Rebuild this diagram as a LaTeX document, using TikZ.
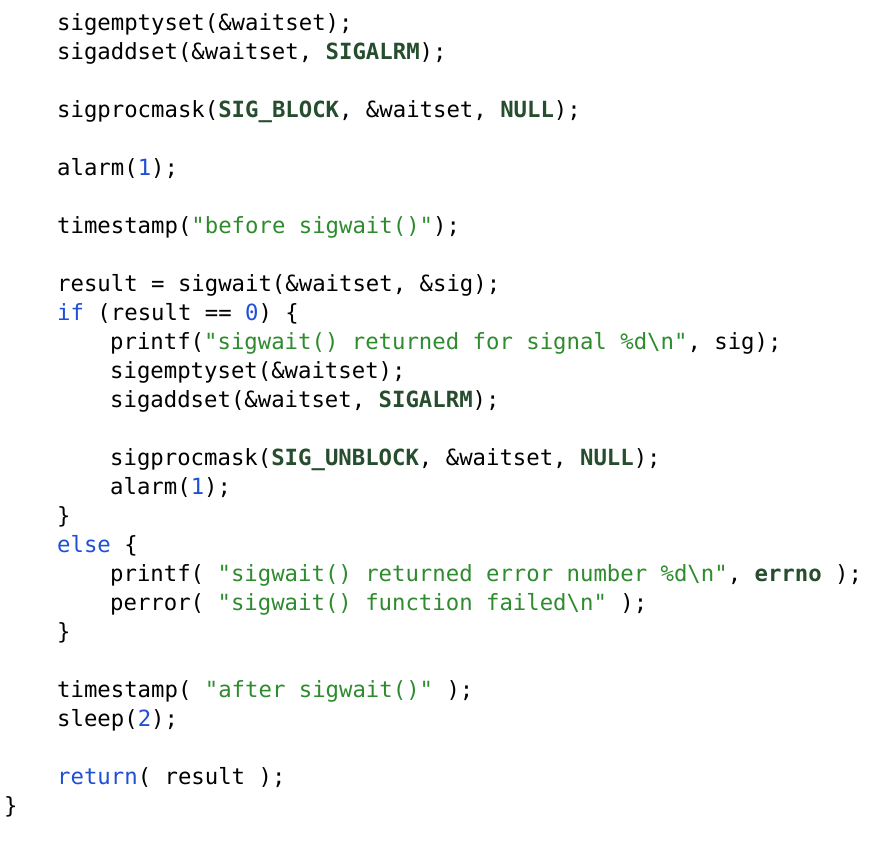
\documentclass[tikz,border=0pt]{standalone}
\usepackage{fontspec}
\setmonofont{DejaVu Sans Mono}
\definecolor{kwc}{HTML}{264D2E}
\definecolor{strc}{HTML}{2E8B2E}
\definecolor{numc}{HTML}{1F4FD6}
\newcommand\cK[1]{\textcolor{kwc}{\bfseries #1}}
\newcommand\cS[1]{\textcolor{strc}{#1}}
\newcommand\cN[1]{\textcolor{numc}{#1}}
\tikzset{ln/.style={anchor=base west,inner sep=0pt,font=\ttfamily\fontsize{22.3bp}{26bp}\selectfont,text=black}}
\begin{document}
\begin{tikzpicture}[x=1bp,y=-1bp]
\useasboundingbox[fill=white] (0,0) rectangle (869,843);
\node[ln] (l1) at (57,30) {sigemptyset(\&waitset);};
\node[ln] (l2) at (57,59) {sigaddset(\&waitset, \cK{SIGALRM});};
\node[ln] (l3) at (57,117) {sigprocmask(\cK{SIG\_BLOCK}, \&waitset, \cK{NULL});};
\node[ln] (l4) at (57,175) {alarm(\cN{1});};
\node[ln] (l5) at (57,233) {timestamp(\cS{"before sigwait()"});};
\node[ln] (l6) at (57,291) {result = sigwait(\&waitset, \&sig);};
\node[ln] (l7) at (57,320) {\cN{if} (result == \cN{0}) \{};
\node[ln] (l8) at (110,349) {printf(\cS{"sigwait() returned for signal \%d\textbackslash n"}, sig);};
\node[ln] (l9) at (110,378) {sigemptyset(\&waitset);};
\node[ln] (l10) at (110,407) {sigaddset(\&waitset, \cK{SIGALRM});};
\node[ln] (l11) at (110,465) {sigprocmask(\cK{SIG\_UNBLOCK}, \&waitset, \cK{NULL});};
\node[ln] (l12) at (110,494) {alarm(\cN{1});};
\node[ln] (l13) at (57,523) {\}};
\node[ln] (l14) at (57,552) {\cN{else} \{};
\node[ln] (l15) at (110,581) {printf( \cS{"sigwait() returned error number \%d\textbackslash n"}, \cK{errno} );};
\node[ln] (l16) at (110,610) {perror( \cS{"sigwait() function failed\textbackslash n"} );};
\node[ln] (l17) at (57,639) {\}};
\node[ln] (l18) at (57,697) {timestamp( \cS{"after sigwait()"} );};
\node[ln] (l19) at (57,726) {sleep(\cN{2});};
\node[ln] (l20) at (57,784) {\cN{return}( result );};
\node[ln] (l21) at (4,813) {\}};
\end{tikzpicture}
\end{document}
